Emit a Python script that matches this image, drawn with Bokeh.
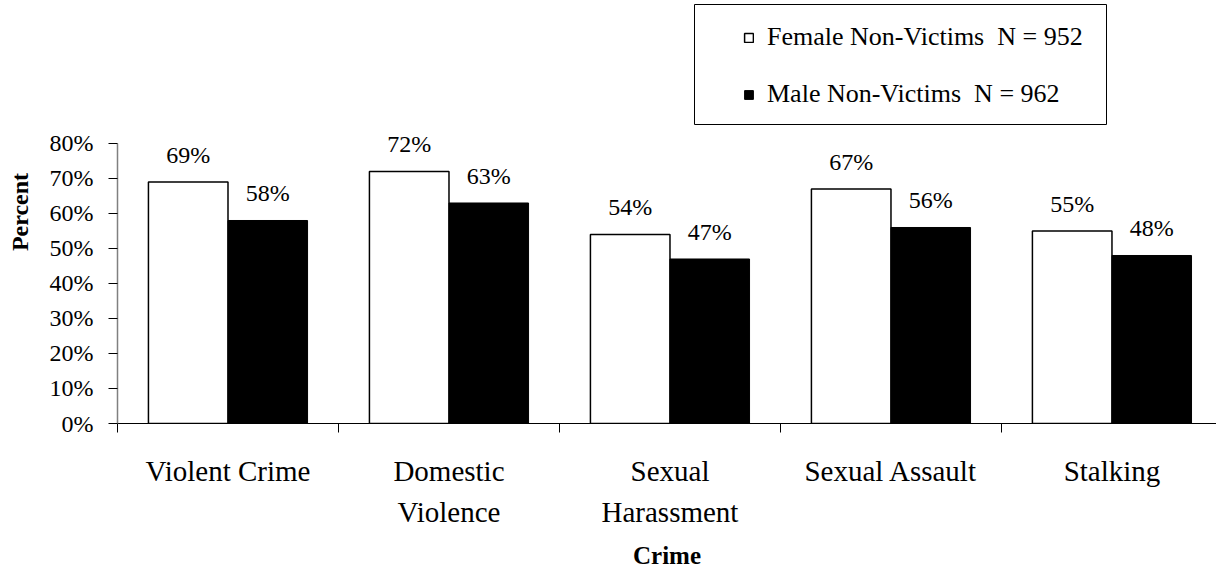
from bokeh.plotting import figure
from bokeh.models import (Range1d, FixedTicker, PrintfTickFormatter, Legend, LegendItem,
                          LabelSet, ColumnDataSource, BoxAnnotation)
from bokeh.embed import file_html
from bokeh.resources import INLINE

categories = ["Violent Crime", "Domestic\nViolence", "Sexual\nHarassment", "Sexual Assault", "Stalking"]
female = [69, 72, 54, 67, 55]
male = [58, 63, 47, 56, 48]
female_label = "Female Non-Victims  N = 952"
male_label = "Male Non-Victims  N = 962"
y_ticks = [0, 10, 20, 30, 40, 50, 60, 70, 80]

FONT = "Liberation Serif"
BAR_W = 0.36
n = len(categories)
centers = [i + 0.5 for i in range(n)]

# frame spans from the top of the canvas down to the 0% line; axis line bounded to 0-80%
p = figure(width=1216, height=571, x_range=Range1d(0, 4.973), y_range=Range1d(0, 120.857),
           output_backend="svg", toolbar_location=None,
           min_border_left=117, min_border_right=0, min_border_top=0, min_border_bottom=148)
p.outline_line_color = None
p.xgrid.visible = False
p.ygrid.visible = False

src_f = ColumnDataSource(dict(x=[c - BAR_W / 2 for c in centers], top=female,
                              label=[f"{v}%" for v in female]))
src_m = ColumnDataSource(dict(x=[c + BAR_W / 2 for c in centers], top=male,
                              label=[f"{v}%" for v in male]))

rf = p.vbar(x="x", top="top", width=BAR_W, source=src_f, fill_color="white",
            line_color="black", line_width=1.5)
rm = p.vbar(x="x", top="top", width=BAR_W, source=src_m, fill_color="black",
            line_color="black", line_width=1)

for src in (src_f, src_m):
    p.add_layout(LabelSet(x="x", y="top", text="label", source=src, text_align="center",
                          text_baseline="middle", y_offset=27, text_font=FONT,
                          text_font_size="24px", text_color="black"))

# y axis
ya = p.yaxis[0]
ya.ticker = FixedTicker(ticks=y_ticks)
ya.bounds = (0, 80)
ya.formatter = PrintfTickFormatter(format="%d%%")
ya.major_tick_out = 9
ya.major_tick_in = 0
ya.minor_tick_out = 0
ya.minor_tick_in = 0
ya.axis_line_color = "#808080"
ya.axis_line_width = 1.5
ya.major_tick_line_color = "black"
ya.major_label_standoff = 15
ya.major_label_text_font = FONT
ya.major_label_text_font_size = "24px"
ya.major_label_text_color = "black"
ya.axis_label = "Percent"
ya.axis_label_text_font = FONT
ya.axis_label_text_font_style = "bold"
ya.axis_label_text_font_size = "24px"
ya.axis_label_text_color = "black"
ya.axis_label_standoff = 14

# x axis
xa = p.xaxis[0]
xa.ticker = FixedTicker(ticks=centers, minor_ticks=list(range(n + 1)))
xa.major_label_overrides = {c: lab for c, lab in zip(centers, categories)}
xa.major_tick_out = 0
xa.major_tick_in = 0
xa.minor_tick_out = 9
xa.minor_tick_in = 0
xa.minor_tick_line_color = "black"
xa.axis_line_color = "black"
xa.major_label_standoff = 22
xa.major_label_text_font = FONT
xa.major_label_text_font_size = "29px"
xa.major_label_text_line_height = 1.29
xa.major_label_text_color = "black"
xa.axis_label = "Crime"
xa.axis_label_text_font = FONT
xa.axis_label_text_font_style = "bold"
xa.axis_label_text_font_size = "25px"
xa.axis_label_text_color = "black"
xa.axis_label_standoff = 11

legend = Legend(items=[LegendItem(label=female_label, renderers=[rf]),
                       LegendItem(label=male_label, renderers=[rm])],
                location=(626, 314), glyph_width=11, glyph_height=11, label_height=28,
                spacing=27, padding=0, margin=0, border_line_color=None,
                background_fill_alpha=0, label_text_font=FONT, label_text_font_size="26px",
                label_text_color="black", label_standoff=13)
p.add_layout(legend)

p.add_layout(BoxAnnotation(left=694, right=1106, top=4, bottom=124,
                           left_units="canvas", right_units="canvas",
                           top_units="canvas", bottom_units="canvas",
                           fill_alpha=0, line_color="black", line_alpha=1, line_width=1))

open("out.html", "w").write(file_html(p, INLINE))
